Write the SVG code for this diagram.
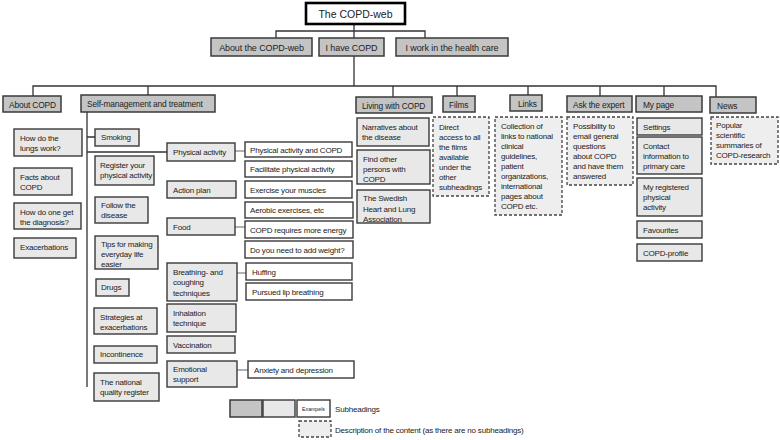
<svg xmlns="http://www.w3.org/2000/svg" width="780" height="440" viewBox="0 0 780 440">
<style>
text{font-family:"Liberation Sans",Arial,sans-serif;font-size:8px;letter-spacing:-0.2px;fill:#222}
.t{font-size:10.5px;letter-spacing:0;text-anchor:middle}
.l2{font-size:9px;letter-spacing:-0.1px;text-anchor:middle}
.h{font-size:8.4px;letter-spacing:-0.15px}
.top{fill:#fff;stroke:#000;stroke-width:2.6}
.dk{fill:#c4c4c4;stroke:#3a3a3a;stroke-width:1.5}
.lt{fill:#e8e8e8;stroke:#3a3a3a;stroke-width:1.4}
.wh{fill:#fff;stroke:#3a3a3a;stroke-width:1.4}
.ds{fill:#eeeeee;stroke:#444;stroke-width:1.3;stroke-dasharray:3 2}
.c{fill:none;stroke:#333;stroke-width:1.3}
.cg{fill:none;stroke:#666;stroke-width:1.1}
</style>
<g id="connectors">
<path class="c" d="M354 24V38M276 38V31H425V38M354 56V86M33 96V86H716V97M148 86V95M393 86V97M457 86V96M528 86V95M600 86V96M664 86V96"/>
<path class="c" d="M87 112V387M87 137H95M87 152H167"/>
<path class="cg" d="M235 151H245M235 227H245M237 273H246M237 370H248"/>
</g>
<g id="title"><rect class="top" x="306" y="3" width="99" height="21"/><text class="t" x="355.5" y="18">The COPD-web</text></g>
<g id="about-web"><rect class="dk" x="211" y="38" width="101" height="18"/><text class="l2" x="261.5" y="51">About the COPD-web</text></g>
<g id="i-have"><rect class="dk" x="319" y="38" width="65" height="18"/><text class="l2" x="351.5" y="51">I have COPD</text></g>
<g id="i-work"><rect class="dk" x="396" y="38" width="112" height="18"/><text class="l2" x="452" y="51">I work in the health care</text></g>

<g id="about-copd"><rect class="dk" x="3" y="96" width="58" height="16"/><text class="h" x="9" y="108">About COPD</text></g>
<g id="self"><rect class="dk" x="81" y="95" width="134" height="17"/><text class="h" x="87" y="107">Self-management and treatment</text></g>
<g id="living"><rect class="dk" x="356" y="97" width="76" height="16"/><text class="h" x="362" y="109">Living with COPD</text></g>
<g id="films"><rect class="dk" x="443" y="96" width="32" height="16"/><text class="h" x="449" y="108">Films</text></g>
<g id="links"><rect class="dk" x="510" y="95" width="32" height="16"/><text class="h" x="518" y="107">Links</text></g>
<g id="ask"><rect class="dk" x="567" y="96" width="65" height="16"/><text class="h" x="573" y="108">Ask the expert</text></g>
<g id="mypage"><rect class="dk" x="636" y="96" width="66" height="16"/><text class="h" x="643" y="108">My page</text></g>
<g id="news"><rect class="dk" x="710" y="97" width="46" height="16"/><text class="h" x="717" y="109">News</text></g>

<g id="lungs"><rect class="lt" x="14" y="129" width="68" height="27"/><text x="20" y="141">How do the</text><text x="20" y="151">lungs work?</text></g>
<g id="facts"><rect class="lt" x="14" y="168" width="58" height="27"/><text x="20" y="180">Facts about</text><text x="20" y="190">COPD</text></g>
<g id="diagnosis"><rect class="lt" x="14" y="203" width="67" height="26"/><text x="20" y="215">How do one get</text><text x="20" y="225">the diagnosis?</text></g>
<g id="exacerbations"><rect class="lt" x="14" y="238" width="62" height="20"/><text x="20" y="250">Exacerbations</text></g>

<g id="smoking"><rect class="lt" x="95" y="129" width="44" height="17"/><text x="101" y="140">Smoking</text></g>
<g id="register"><rect class="lt" x="95" y="156" width="59" height="29"/><text x="100" y="168">Register your</text><text x="100" y="178">physical activity</text></g>
<g id="follow"><rect class="lt" x="95" y="197" width="53" height="26"/><text x="101" y="208">Follow the</text><text x="101" y="218">disease</text></g>
<g id="tips"><rect class="lt" x="95" y="236" width="63" height="33"/><text x="101" y="247">Tips for making</text><text x="101" y="257">everyday life</text><text x="101" y="267">easier</text></g>
<g id="drugs"><rect class="lt" x="96" y="279" width="33" height="17"/><text x="101" y="290">Drugs</text></g>
<g id="strategies"><rect class="lt" x="94" y="308" width="63" height="26"/><text x="100" y="320">Strategies at</text><text x="100" y="330">exacerbations</text></g>
<g id="incontinence"><rect class="lt" x="94" y="346" width="63" height="17"/><text x="100" y="357">Incontinence</text></g>
<g id="national"><rect class="lt" x="94" y="373" width="65" height="28"/><text x="100" y="385">The national</text><text x="100" y="395">quality register</text></g>

<g id="physical"><rect class="lt" x="167" y="143" width="68" height="18"/><text x="173" y="155">Physical activity</text></g>
<g id="action"><rect class="lt" x="167" y="181" width="69" height="17"/><text x="173" y="193">Action plan</text></g>
<g id="food"><rect class="lt" x="167" y="218" width="68" height="17"/><text x="173" y="230">Food</text></g>
<g id="breathing"><rect class="lt" x="167" y="263" width="70" height="38"/><text x="173" y="275">Breathing- and</text><text x="173" y="285">coughing</text><text x="173" y="296">techniques</text></g>
<g id="inhalation"><rect class="lt" x="167" y="304" width="69" height="28"/><text x="173" y="316">Inhalation</text><text x="173" y="326">technique</text></g>
<g id="vaccination"><rect class="lt" x="167" y="336" width="68" height="17"/><text x="173" y="348">Vaccination</text></g>
<g id="emotional"><rect class="lt" x="167" y="361" width="70" height="26"/><text x="173" y="372">Emotional</text><text x="173" y="382">support</text></g>

<g id="pa-copd"><rect class="wh" x="245" y="142" width="107" height="15"/><text x="250" y="153">Physical activity and COPD</text></g>
<g id="facilitate"><rect class="wh" x="245" y="161" width="107" height="16"/><text x="250" y="172">Facilitate physical activity</text></g>
<g id="exercise"><rect class="wh" x="245" y="181" width="107" height="17"/><text x="250" y="193">Exercise your muscles</text></g>
<g id="aerobic"><rect class="wh" x="245" y="202" width="108" height="16"/><text x="250" y="213">Aerobic exercises, etc</text></g>
<g id="energy"><rect class="wh" x="245" y="221" width="108" height="17"/><text x="250" y="233">COPD requires more energy</text></g>
<g id="weight"><rect class="wh" x="245" y="241" width="108" height="17"/><text x="250" y="253">Do you need to add weight?</text></g>
<g id="huffing"><rect class="wh" x="246" y="263" width="106" height="17"/><text x="252" y="275">Huffing</text></g>
<g id="lip"><rect class="wh" x="246" y="283" width="106" height="17"/><text x="252" y="295">Pursued lip breathing</text></g>
<g id="anxiety"><rect class="wh" x="248" y="361" width="106" height="17"/><text x="254" y="373">Anxiety and depression</text></g>

<g id="narratives"><rect class="lt" x="357" y="118" width="72" height="28"/><text x="362" y="130">Narratives about</text><text x="362" y="140">the disease</text></g>
<g id="find"><rect class="lt" x="357" y="150" width="73" height="34"/><text x="363" y="162">Find other</text><text x="363" y="172">persons with</text><text x="363" y="182">COPD</text></g>
<g id="swedish"><rect class="lt" x="357" y="190" width="73" height="33"/><text x="363" y="201">The Swedish</text><text x="363" y="212">Heart and Lung</text><text x="363" y="222">Association</text></g>

<g id="films-desc"><rect class="ds" x="433" y="117" width="56" height="79"/><text x="439" y="130">Direct</text><text x="439" y="140">access to all</text><text x="439" y="150">the films</text><text x="439" y="160">available</text><text x="439" y="170">under the</text><text x="439" y="180">other</text><text x="439" y="190">subheadings</text></g>
<g id="links-desc"><rect class="ds" x="495" y="117" width="67" height="98"/><text x="501" y="129">Collection of</text><text x="501" y="139">links to national</text><text x="501" y="149">clinical</text><text x="501" y="159">guidelines,</text><text x="501" y="169">patient</text><text x="501" y="179">organizations,</text><text x="501" y="189">international</text><text x="501" y="199">pages about</text><text x="501" y="209">COPD etc.</text></g>
<g id="ask-desc"><rect class="ds" x="567" y="117" width="66" height="68"/><text x="573" y="129">Possibility to</text><text x="573" y="139">email general</text><text x="573" y="149">questions</text><text x="573" y="159">about COPD</text><text x="573" y="169">and have them</text><text x="573" y="179">answered</text></g>

<g id="settings"><rect class="lt" x="637" y="118" width="65" height="17"/><text x="643" y="130">Settings</text></g>
<g id="contact"><rect class="lt" x="637" y="137" width="65" height="37"/><text x="643" y="149">Contact</text><text x="643" y="159">information to</text><text x="643" y="169">primary care</text></g>
<g id="myreg"><rect class="lt" x="637" y="178" width="65" height="38"/><text x="643" y="190">My registered</text><text x="643" y="200">physical</text><text x="643" y="210">activity</text></g>
<g id="favourites"><rect class="lt" x="637" y="221" width="65" height="17"/><text x="643" y="233">Favourites</text></g>
<g id="profile"><rect class="lt" x="637" y="244" width="65" height="17"/><text x="643" y="256">COPD-profile</text></g>

<g id="news-desc"><rect class="ds" x="711" y="117" width="67" height="47"/><text x="716" y="128">Popular</text><text x="716" y="138">scientific</text><text x="716" y="148">summaries of</text><text x="716" y="158">COPD-research</text></g>

<g id="legend">
<rect class="dk" x="230" y="400" width="32" height="17"/>
<rect class="lt" x="263" y="400" width="32" height="17"/>
<rect class="wh" x="297" y="400" width="33" height="17"/>
<text x="313.5" y="411" style="font-size:5.2px;letter-spacing:0;text-anchor:middle">Exampels</text>
<text x="335" y="412">Subheadings</text>
<rect class="ds" x="299" y="421" width="32" height="16"/>
<text x="335" y="433">Description of the content (as there are no subheadings)</text>
</g>
</svg>
